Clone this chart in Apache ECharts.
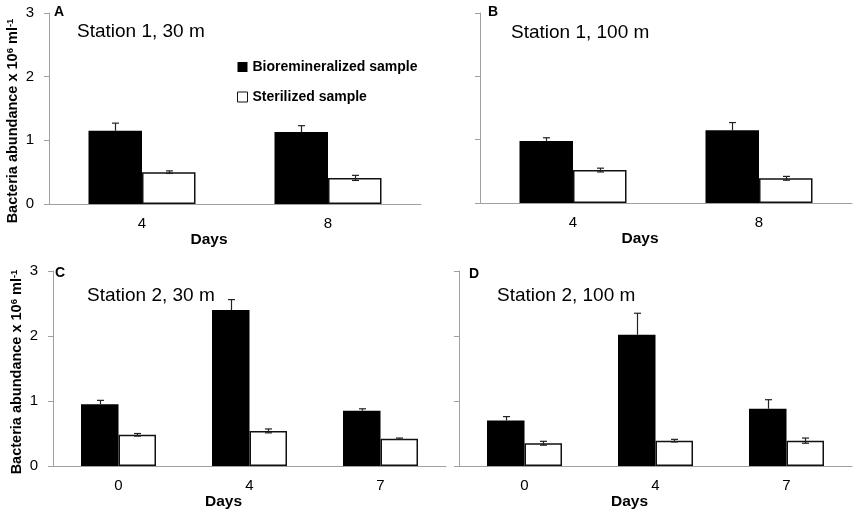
<!DOCTYPE html>
<html>
<head>
<meta charset="utf-8">
<script src="https://cdn.jsdelivr.net/npm/echarts@6/dist/echarts.min.js"></script>
<style>
  html, body { margin: 0; padding: 0; background: #fff; }
  #main { width: 856px; height: 514px; }
</style>
</head>
<body>
<div id="main"></div>
<script>
// days sampled
const daysSt1 = ["4", "8"];
const daysSt2 = ["0", "4", "7"];

// bacteria abundance (x10^6 ml-1), means and error bars
const bioA = [1.15, 1.13];
const bioErrA = [0.12, 0.10];
const sterA = [0.50, 0.41];
const sterErrA = [0.02, 0.04];

const bioB = [0.98, 1.15];
const bioErrB = [0.05, 0.12];
const sterB = [0.52, 0.39];
const sterErrB = [0.03, 0.03];

const bioC = [0.95, 2.40, 0.85];
const bioErrC = [0.06, 0.16, 0.03];
const sterC = [0.48, 0.54, 0.42];
const sterErrC = [0.02, 0.03, 0.01];

const bioD = [0.70, 2.02, 0.88];
const bioErrD = [0.06, 0.33, 0.14];
const sterD = [0.35, 0.39, 0.39];
const sterErrD = [0.03, 0.02, 0.04];

const FONT = "Arial, 'Liberation Sans', sans-serif";
const AXIS_COLOR = "#a0a0a0";

const grids = [
  { left: 49, top: 13, width: 372, height: 191 },
  { left: 480, top: 13, width: 372, height: 190 },
  { left: 53, top: 271, width: 393, height: 195 },
  { left: 459, top: 271, width: 393, height: 195 },
];

function xAxisFor(i, cats) {
  return {
    type: "category",
    gridIndex: i,
    data: cats,
    axisLine: { lineStyle: { color: AXIS_COLOR, width: 1 } },
    axisTick: { lineStyle: { color: AXIS_COLOR }, length: 5 },
    axisLabel: { color: "#000", fontSize: 15, fontFamily: FONT, margin: 12 },
    name: "Days",
    nameLocation: "middle",
    nameGap: 25,
    nameTextStyle: {
      color: "#000", fontSize: 15.5, fontWeight: "bold", fontFamily: FONT,
      padding: [0, 52, 0, 0],
    },
  };
}

function yAxisFor(i, showLabels) {
  return {
    type: "value",
    gridIndex: i,
    min: 0,
    max: 3,
    interval: 1,
    axisLine: { show: true, lineStyle: { color: AXIS_COLOR, width: 1 } },
    axisTick: { show: true, length: 5, lineStyle: { color: AXIS_COLOR } },
    splitLine: { show: false },
    axisLabel: { show: showLabels, color: "#000", fontSize: 15, fontFamily: FONT, margin: 15 },
  };
}

// error bar drawn with a custom series; side -1 = black (left) bar, only the upper whisker shows
function errSeries(i, vals, errs, side, bw) {
  return {
    type: "custom",
    xAxisIndex: i,
    yAxisIndex: i,
    z: 5,
    silent: true,
    data: vals.map((v, k) => [k, v, errs[k]]),
    renderItem: function (params, api) {
      const idx = api.value(0);
      const v = api.value(1);
      const e = api.value(2);
      const c = api.coord([idx, v]);
      const x = Math.round(c[0] + side * bw / 2) + 0.5;
      const top = api.coord([idx, v + e])[1];
      const bot = side < 0 ? c[1] : api.coord([idx, v - e])[1];
      const st = { stroke: "#222", lineWidth: 1.2 };
      const kids = [
        { type: "line", shape: { x1: x, y1: top, x2: x, y2: bot }, style: st },
        { type: "line", shape: { x1: x - 3.5, y1: top, x2: x + 3.5, y2: top }, style: st },
      ];
      if (side > 0) {
        kids.push({ type: "line", shape: { x1: x - 3.5, y1: bot, x2: x + 3.5, y2: bot }, style: st });
      }
      return { type: "group", children: kids };
    },
  };
}

function barPair(i, bio, ster, bw) {
  return [
    {
      name: "Bioremineralized sample",
      type: "bar",
      xAxisIndex: i,
      yAxisIndex: i,
      data: bio,
      barWidth: bw,
      barGap: "0%",
      itemStyle: { color: "#000" },
    },
    {
      name: "Sterilized sample",
      type: "bar",
      xAxisIndex: i,
      yAxisIndex: i,
      data: ster,
      barWidth: bw,
      barGap: "0%",
      itemStyle: { color: "#fff", borderColor: "#111", borderWidth: 1.5 },
    },
  ];
}

const wide = 53.5;
const narrow = 37.5;

const series = [
  ...barPair(0, bioA, sterA, wide),
  ...barPair(1, bioB, sterB, wide),
  ...barPair(2, bioC, sterC, narrow),
  ...barPair(3, bioD, sterD, narrow),
  errSeries(0, bioA, bioErrA, -1, wide),
  errSeries(0, sterA, sterErrA, 1, wide),
  errSeries(1, bioB, bioErrB, -1, wide),
  errSeries(1, sterB, sterErrB, 1, wide),
  errSeries(2, bioC, bioErrC, -1, narrow),
  errSeries(2, sterC, sterErrC, 1, narrow),
  errSeries(3, bioD, bioErrD, -1, narrow),
  errSeries(3, sterD, sterErrD, 1, narrow),
];

const letterStyle = { color: "#000", fontSize: 14, fontWeight: "bold", fontFamily: FONT };
const stationStyle = { color: "#000", fontSize: 19, fontWeight: "normal", fontFamily: FONT };

const yNameRich = {
  b: { fontSize: 14.5, fontWeight: "bold", fontFamily: FONT, fill: "#000" },
  sup: { fontSize: 9.5, fontWeight: "bold", fontFamily: FONT, fill: "#000", verticalAlign: "top", padding: [0, 0, 6, 0] },
};

function yName(x, y) {
  return {
    type: "text",
    x: x,
    y: y,
    rotation: Math.PI / 2,
    style: {
      text: "{b|Bacteria abundance x 10}{sup|6}{b| ml}{sup|-1}",
      rich: yNameRich,
      align: "center",
      verticalAlign: "middle",
      fill: "#000",
    },
  };
}

const option = {
  animation: false,
  backgroundColor: "#fff",
  textStyle: { fontFamily: FONT },
  title: [
    { text: "A", left: 54, top: 5, padding: 0, textStyle: letterStyle },
    { text: "Station 1, 30 m", left: 77, top: 22, padding: 0, textStyle: stationStyle },
    { text: "B", left: 488, top: 5, padding: 0, textStyle: letterStyle },
    { text: "Station 1, 100 m", left: 511, top: 23, padding: 0, textStyle: stationStyle },
    { text: "C", left: 55, top: 266, padding: 0, textStyle: letterStyle },
    { text: "Station 2, 30 m", left: 87, top: 286, padding: 0, textStyle: stationStyle },
    { text: "D", left: 469, top: 267, padding: 0, textStyle: letterStyle },
    { text: "Station 2, 100 m", left: 497, top: 286, padding: 0, textStyle: stationStyle },
  ],
  legend: {
    data: ["Bioremineralized sample", "Sterilized sample"],
    orient: "vertical",
    left: 237,
    top: 60,
    padding: 0,
    itemGap: 16,
    itemWidth: 10,
    itemHeight: 10,
    icon: "rect",
    itemStyle: { borderWidth: 1 },
    textStyle: { color: "#000", fontSize: 14, fontWeight: "bold", fontFamily: FONT },
  },
  graphic: [yName(13, 121), yName(17, 372)],
  grid: grids,
  xAxis: [
    xAxisFor(0, daysSt1),
    xAxisFor(1, daysSt1),
    xAxisFor(2, daysSt2),
    xAxisFor(3, daysSt2),
  ],
  yAxis: [yAxisFor(0, true), yAxisFor(1, false), yAxisFor(2, true), yAxisFor(3, false)],
  series: series,
};

var myChart = echarts.init(document.getElementById("main"));
myChart.setOption(option);

window.onresize = function () {
  myChart.resize();
};
</script>
</body>
</html>
